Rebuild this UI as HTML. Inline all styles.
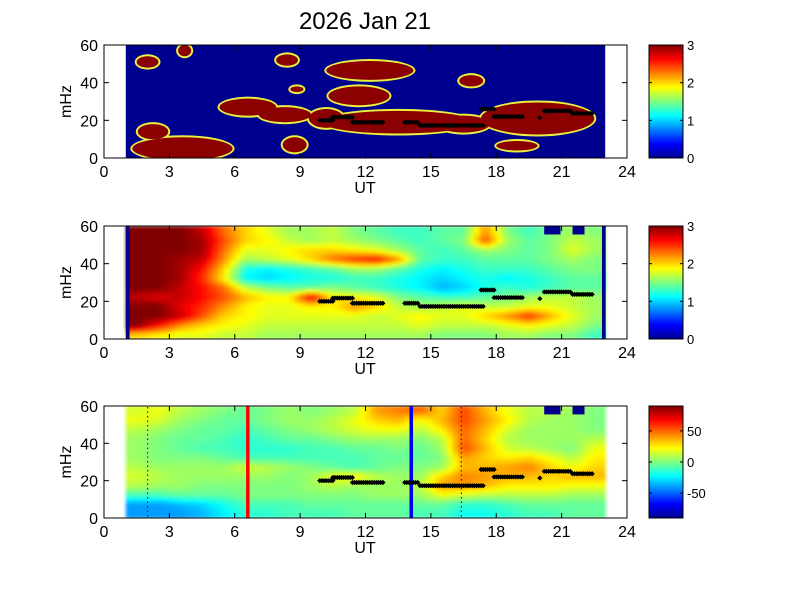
<!DOCTYPE html>
<html><head><meta charset="utf-8"><style>
body{margin:0;background:#fff;}
svg{display:block;font-family:"Liberation Sans",sans-serif;}
</style></head><body>
<svg id="fig" width="801" height="600" viewBox="0 0 801 600" xmlns="http://www.w3.org/2000/svg">
<defs>
<filter id="blur" x="-5%" y="-5%" width="110%" height="110%"><feGaussianBlur stdDeviation="1.5"/></filter>
<linearGradient id="jet" x1="0" y1="1" x2="0" y2="0">
<stop offset="0" stop-color="#00008f"/><stop offset="0.125" stop-color="#0000ff"/><stop offset="0.375" stop-color="#00ffff"/><stop offset="0.625" stop-color="#ffff00"/><stop offset="0.875" stop-color="#ff0000"/><stop offset="1" stop-color="#800000"/>
</linearGradient>
<clipPath id="c1"><rect x="104" y="45" width="523" height="113"/></clipPath>
<clipPath id="c2"><rect x="104" y="226" width="523" height="113"/></clipPath>
<clipPath id="c3"><rect x="104" y="406" width="523" height="112"/></clipPath>
</defs>
<rect width="801" height="600" fill="#fff"/>
<text x="365" y="29" font-size="24" text-anchor="middle">2026 Jan 21</text>
<g id="root"></g>
</svg>
<script>
// ---------- data ----------
const hourCenters = [1.5,2.5,3.5,4.5,5.5,6.5,7.5,8.5,9.5,10.5,11.5,12.5,13.5,14.5,15.5,16.5,17.5,18.5,19.5,20.5,21.5,22.5];
const freqCenters = [57.5,52.5,47.5,42.5,37.5,32.5,27.5,22.5,17.5,12.5,7.5,2.5];
const xTicks = [0,3,6,9,12,15,18,21,24];
const yTicks = [0,20,40,60];
const cbTicks1 = [0,1,2,3];
const cbTicks3 = [-50,0,50];
// panel 1 blobs: UT center, mHz center, half-width (h), half-height (mHz)
const blobUT = [2.0,3.7,8.4,12.2,16.85,8.85,11.7,6.6,8.3,10.2,13.5,16.5,19.9,3.6,2.25,8.75,18.95];
const blobMHz = [51,57,52,46.5,41,36.5,33,27,23,21,19,18,21,5,14,7,6.5];
const blobHalfW = [0.5,0.3,0.5,2.0,0.55,0.3,1.4,1.3,1.2,0.8,3.5,1.2,2.6,2.3,0.7,0.55,0.95];
const blobHalfH = [3,3,3,5,3,1.5,5,4.5,4,5,6,4.5,8.5,6,4,4,2.5];
// ridge (dot) segments
const segStart = [9.9,10.5,11.4,13.8,14.5,17.3,17.9,20.0,20.2,21.5];
const segEnd =   [10.5,11.4,12.8,14.4,17.4,17.9,19.2,20.05,21.4,22.4];
const segMHz =   [20,21.7,19,19,17.3,26,22,21.4,25,23.7];
// masked (zero) blocks at top right
const maskStart = [20.2,21.5];
const maskEnd = [20.95,22.05];
// panel 2 power grid (rows top->bottom), 0..3
const power = [
[3,3,3,2.8,2.3,2,1.8,1.6,1.6,1.7,1.5,1.4,1.3,1.3,1.4,1.4,2.2,1.5,1.3,1.5,1.6,1.5],
[3,3,3,2.9,2.4,2.0,1.9,1.7,1.6,1.7,1.6,1.5,1.4,1.3,1.4,1.5,2.4,1.6,1.4,1.5,1.7,1.6],
[3,3,3,2.9,2.3,1.8,1.8,1.9,2.0,2.0,1.9,1.8,1.6,1.4,1.3,1.4,1.6,1.5,1.4,1.5,1.8,1.6],
[3,3,2.9,2.8,2.2,1.6,1.7,1.8,2.0,2.3,2.5,2.6,2.2,1.4,1.3,1.3,1.4,1.4,1.4,1.5,1.6,1.5],
[3,3,2.9,2.6,2.0,1.2,1.1,1.2,1.3,1.4,1.6,1.6,1.4,1.2,1.1,1.2,1.3,1.3,1.3,1.4,1.5,1.5],
[3,3,2.9,2.5,1.9,1.1,1.0,1.1,1.2,1.2,1.3,1.3,1.2,1.1,1.0,1.1,1.2,1.1,1.2,1.3,1.4,1.4],
[3,3,2.8,2.6,2.3,1.7,1.5,1.4,1.4,1.5,1.4,1.3,1.2,1.1,0.9,1.0,1.2,1.3,1.2,1.3,1.4,1.4],
[2.8,2.7,2.8,2.6,2.4,2.1,1.9,1.9,2.7,1.9,1.9,1.8,1.5,1.4,1.3,1.3,1.4,1.5,1.6,1.7,1.7,1.6],
[3,3,2.7,2.5,2.2,1.9,1.8,1.8,1.9,1.9,2.2,2.0,1.7,1.6,1.7,1.8,1.7,1.7,1.8,1.8,1.7,1.6],
[3,3,2.8,2.4,2.0,1.9,1.8,1.8,1.8,1.8,1.8,1.7,1.8,1.9,1.8,1.8,2.0,2.2,2.5,2.1,1.8,1.6],
[3,2.6,2.2,2.0,1.9,1.8,1.7,1.7,1.7,1.7,1.7,1.7,1.7,1.8,1.7,1.7,1.7,1.8,1.9,1.8,1.7,1.5],
[2.0,1.9,1.8,1.8,1.7,1.7,1.6,1.6,1.6,1.6,1.6,1.6,1.6,1.6,1.5,1.5,1.5,1.6,1.6,1.5,1.5,1.3]];
// panel 3 phase grid (rows top->bottom), -90..90
const phase = [
[15,20,10,5,0,-5,0,5,0,5,10,40,45,50,30,55,35,20,10,10,5,0],
[20,15,5,0,-5,-5,0,5,5,10,20,30,35,20,35,55,40,25,10,5,5,0],
[10,5,0,-5,-5,-10,-5,0,5,10,15,20,20,10,25,50,35,15,5,5,5,0],
[5,0,-5,-5,-10,-15,-10,-5,-5,0,5,5,5,0,10,50,30,10,5,5,5,10],
[5,0,-5,-10,-10,-15,-15,-15,-10,-10,-5,-5,0,-5,5,55,35,15,10,5,0,20],
[5,0,0,0,-5,-10,-10,-10,-10,-10,-10,-5,-5,-5,0,40,30,25,30,20,10,25],
[10,5,5,5,5,15,10,5,0,-5,-10,-5,0,0,5,35,35,40,45,30,20,30],
[15,10,5,5,5,5,5,0,5,20,25,10,5,5,30,45,40,35,35,30,35,35],
[10,5,5,0,0,0,0,0,5,10,5,5,5,10,40,40,35,25,25,25,20,20],
[-10,-10,-5,-5,-5,0,0,0,0,0,0,5,5,5,20,15,10,10,10,10,5,5],
[-40,-40,-35,-30,-20,-10,-10,-10,-5,-5,-5,-5,-5,-5,-5,-15,-15,-10,-5,-5,-5,-5],
[-40,-40,-40,-35,-25,-15,-15,-10,-10,-10,-5,-5,-5,-10,-10,-20,-20,-15,-10,-10,-5,-5]];
const redLineUT = [6.6];
const blueLineUT = [14.1];
const dottedLineUT = [2.0,16.4];

// ---------- helpers ----------
const NS = "http://www.w3.org/2000/svg";
const root = document.getElementById('root');
const X0 = 104, X1 = 627;
const panels = [{top:45,h:113},{top:226,h:113},{top:406,h:112}];
function xs(ut){return X0 + ut/24*(X1-X0);}
function ys(p,m){return panels[p].top + (60-m)/60*panels[p].h;}
function mk(tag, attrs, parent){const e=document.createElementNS(NS,tag);for(const k in attrs)e.setAttribute(k,attrs[k]);(parent||root).appendChild(e);return e;}
function jet(t){t=Math.max(0,Math.min(1,t));
  const r=Math.max(0,Math.min(1,Math.min(4*t-1.5,-4*t+4.5)));
  const g=Math.max(0,Math.min(1,Math.min(4*t-0.5,-4*t+3.5)));
  const b=Math.max(0,Math.min(1,Math.min(4*t+0.5,-4*t+2.5)));
  return `rgb(${Math.round(r*255)},${Math.round(g*255)},${Math.round(b*255)})`;}
function sample(grid, ut, m){
  let c=(ut-1.5), r=(57.5-m)/5;
  c=Math.max(0,Math.min(hourCenters.length-1,c)); r=Math.max(0,Math.min(freqCenters.length-1,r));
  const c0=Math.floor(c), r0=Math.floor(r), c1=Math.min(c0+1,hourCenters.length-1), r1=Math.min(r0+1,freqCenters.length-1);
  const fc=c-c0, fr=r-r0;
  return (grid[r0][c0]*(1-fc)+grid[r0][c1]*fc)*(1-fr)+(grid[r1][c0]*(1-fc)+grid[r1][c1]*fc)*fr;
}
function heat(p, grid, vmin, vmax, name){
  const g=mk('g',{'clip-path':`url(#c${p+1})`});
  
  
  const inner=mk('g',{filter:'url(#blur)'},g);
  const du=0.25, dm=1.25;
  for(let u=1; u<23-1e-6; u+=du){
    for(let m=0; m<60-1e-6; m+=dm){
      const v=sample(grid,u+du/2,m+dm/2);
      const x=xs(u), y=ys(p,m+dm);
      const cell=mk('rect',{x:x.toFixed(2),y:y.toFixed(2),width:(xs(u+du)-x+0.6).toFixed(2),height:(ys(p,m)-y+0.6).toFixed(2),fill:jet((v-vmin)/(vmax-vmin))},inner);
      
      
    }
  }
  return g;
}
function masks(p){
  for(let i=0;i<maskStart.length;i++){
    const r=mk('rect',{x:xs(maskStart[i]),y:ys(p,60),width:xs(maskEnd[i])-xs(maskStart[i]),height:ys(p,55.5)-ys(p,60),fill:'#00008f'});
    
    
  }
}
function dots(p){
  for(let i=0;i<segStart.length;i++){
    for(let u=segStart[i]; u<=segEnd[i]+1e-6; u+=0.1){
      const x=xs(u), y=ys(p,segMHz[i]);
      const d=mk('path',{d:`M${(x-2.6).toFixed(2)},${y.toFixed(2)}L${x.toFixed(2)},${(y-2.6).toFixed(2)}L${(x+2.6).toFixed(2)},${y.toFixed(2)}L${x.toFixed(2)},${(y+2.6).toFixed(2)}Z`,fill:'#000'});
      
      
    }
  }
}
function axes(p){
  const t=panels[p].top, h=panels[p].h, b=t+h;
  const box=mk('rect',{x:X0,y:t,width:X1-X0,height:h,fill:'none',stroke:'#000','stroke-width':1});
  
  
  xTicks.forEach(v=>{
    const x=xs(v);
    mk('line',{x1:x,y1:b,x2:x,y2:b-5,stroke:'#000'});
    mk('line',{x1:x,y1:t,x2:x,y2:t+5,stroke:'#000'});
    const tl=mk('text',{x:x,y:b+19,'font-size':16,'text-anchor':'middle'});
    tl.textContent=v;
    
    
  });
  yTicks.forEach(v=>{
    const y=ys(p,v);
    mk('line',{x1:X0,y1:y,x2:X0+5,y2:y,stroke:'#000'});
    mk('line',{x1:X1,y1:y,x2:X1-5,y2:y,stroke:'#000'});
    const tl=mk('text',{x:X0-6,y:y+6,'font-size':16,'text-anchor':'end'});
    tl.textContent=v;
    
    
  });
  const xl=mk('text',{x:365,y:b+35,'font-size':16,'text-anchor':'middle'});
  xl.textContent='UT';
  
  
  const yl=mk('text',{x:0,y:0,'font-size':16,'text-anchor':'middle',transform:`translate(71,${t+h/2}) rotate(-90)`});
  yl.textContent='mHz';
  
  
}
function colorbar(p, ticks, vmin, vmax){
  const t=panels[p].top, h=panels[p].h;
  const cb=mk('rect',{x:649,y:t,width:34,height:h,fill:'url(#jet)',stroke:'#000'});
  
  
  ticks.forEach(v=>{
    const y=t+h-(v-vmin)/(vmax-vmin)*h;
    mk('line',{x1:649,y1:y,x2:652,y2:y,stroke:'#000'});
    mk('line',{x1:683,y1:y,x2:680,y2:y,stroke:'#000'});
    const tl=mk('text',{x:687,y:y+5,'font-size':13});
    tl.textContent=v;
    
    
  });
}

// ---------- panel 1 ----------
(function(){
  const g=mk('g',{'clip-path':'url(#c1)'});
  
  
  mk('rect',{x:xs(1),y:45,width:xs(23)-xs(1),height:113,fill:'#00008f'},g);
  const halo=mk('g',{},g), core=mk('g',{},g);
  for(let i=0;i<blobUT.length;i++){
    const cx=xs(blobUT[i]), cy=ys(0,blobMHz[i]);
    const rx=xs(blobHalfW[i])-X0, ry=blobHalfH[i]/60*113;
    const e=mk('ellipse',{cx,cy,rx:rx+2,ry:ry+2,fill:'#e8f040'},halo);
    
    
    const e2=mk('ellipse',{cx,cy,rx,ry,fill:'#8b0000'},core);
    
    
  }
  dots(0);
  axes(0); colorbar(0,cbTicks1,0,3);
})();

// ---------- panel 2 ----------
heat(1,power,0,3,'power-spectrogram');
[1,22.85].forEach(u=>{
  const r=mk('rect',{x:xs(u),y:226,width:xs(u+0.15)-xs(u)+0.5,height:113,fill:'#00008f'});
  
  
});
masks(1);
dots(1);
axes(1); colorbar(1,cbTicks1,0,3);

// ---------- panel 3 ----------
heat(2,phase,-90,90,'phase-spectrogram');
masks(2);
dottedLineUT.forEach(u=>{
  const l=mk('line',{x1:xs(u),y1:407,x2:xs(u),y2:517,stroke:'#552222','stroke-width':1.2,'stroke-dasharray':'1.5,3'});
  
  
});
redLineUT.forEach(u=>{
  const l=mk('line',{x1:xs(u),y1:406,x2:xs(u),y2:518,stroke:'#ff0000','stroke-width':3.5});
  
  
});
blueLineUT.forEach(u=>{
  const l=mk('line',{x1:xs(u),y1:406,x2:xs(u),y2:518,stroke:'#0000ee','stroke-width':3.5});
  
  
});
dots(2);
axes(2); colorbar(2,cbTicks3,-90,90);
</script>
</body></html>
